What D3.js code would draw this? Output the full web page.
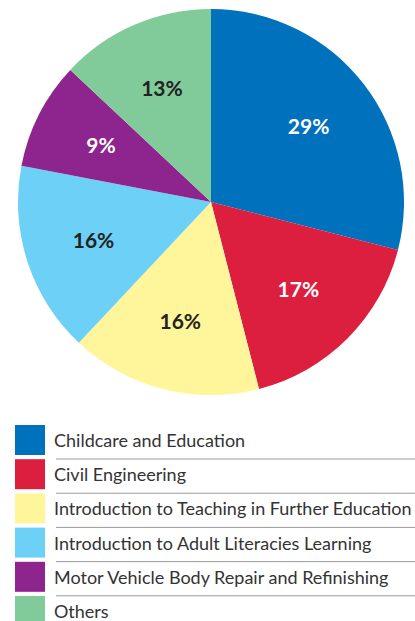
<!DOCTYPE html>
<html>
<head>
<meta charset="utf-8">
<script src="https://cdn.jsdelivr.net/npm/d3@7"></script>
<style>
	body { margin: 0; background: #fff; }
	svg { display: block; font-family: Lato, "Open Sans", sans-serif; }
</style>
</head>
<body>
<div id="chart"></div>
<script>
var categories = [
	"Childcare and Education",
	"Civil Engineering",
	"Introduction to Teaching in Further Education",
	"Introduction to Adult Literacies Learning",
	"Motor Vehicle Body Repair and Refinishing",
	"Others"
];
var shares = [29, 17, 16, 16, 9, 13];
var sliceColors = ["#0071bc", "#dc1f3f", "#fff59b", "#6dd0f6", "#8e248d", "#81cb9b"];
var labelColors = ["#fff", "#fff", "#222", "#222", "#fff", "#222"];

var width = 415, height = 621;
var cx = 211, cy = 202, radius = 193;

var svg = d3.select("#chart").append("svg")
	.attr("width", width)
	.attr("height", height);

var data = categories.map(function(c, i) {
	return { name: c, value: shares[i], color: sliceColors[i], label: labelColors[i] };
});

var pie = d3.pie()
	.sort(null)
	.value(function(d) { return d.value; });

var arc = d3.arc().innerRadius(0).outerRadius(radius);
var labelArc = d3.arc().innerRadius(radius * 0.64).outerRadius(radius * 0.64);

var g = svg.append("g")
	.attr("transform", "translate(" + cx + "," + cy + ")");

var arcs = pie(data);

g.selectAll(".slice")
	.data(arcs)
	.enter().append("path")
	.attr("class", "slice")
	.attr("d", arc)
	.style("fill", function(d) { return d.data.color; });

g.selectAll(".pct")
	.data(arcs)
	.enter().append("text")
	.attr("class", "pct")
	.attr("transform", function(d) { return "translate(" + labelArc.centroid(d) + ")"; })
	.attr("text-anchor", "middle")
	.attr("dy", "0.36em")
	.style("font-size", "21px")
	.style("font-weight", "700")
	.style("fill", function(d) { return d.data.label; })
	.text(function(d) { return d.data.value + "%"; });

//legend
var y = d3.scaleBand()
	.domain(categories)
	.range([425, 425 + 34.2 * categories.length]);

var legend = svg.append("g").attr("class", "legend");

var rows = legend.selectAll(".row")
	.data(data)
	.enter().append("g")
	.attr("class", "row")
	.attr("transform", function(d) { return "translate(0," + y(d.name) + ")"; });

rows.append("rect")
	.attr("x", 15)
	.attr("width", 30)
	.attr("height", 30)
	.style("fill", function(d) { return d.color; });

rows.append("text")
	.attr("x", 54)
	.attr("y", 22)
	.style("font-size", "18px")
	.style("fill", "#333")
	.text(function(d) { return d.name; });

rows.filter(function(d, i) { return i < categories.length - 1; })
	.append("line")
	.attr("x1", 56)
	.attr("x2", width)
	.attr("y1", 34)
	.attr("y2", 34)
	.style("stroke", "#999")
	.style("stroke-width", 1);
</script>
</body>
</html>
